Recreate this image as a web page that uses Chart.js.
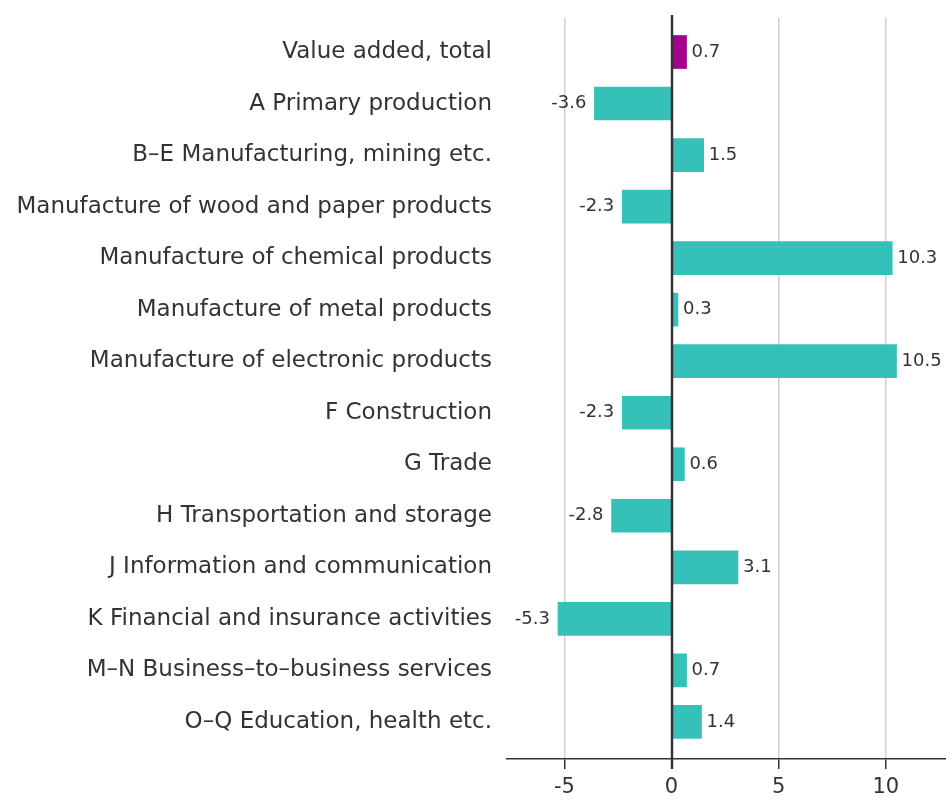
<!DOCTYPE html>
<html>
<head>
<meta charset="utf-8">
<script src="https://cdn.jsdelivr.net/npm/chart.js@4"></script>
<style>
  html, body { margin: 0; padding: 0; background: #fff; }
  #wrap { width: 946px; height: 803px; }
</style>
</head>
<body>
<div id="wrap"><canvas id="chart" width="946" height="803"></canvas></div>
<script>
const categories = [
    'Value added, total',
    'A Primary production',
    'B\u2013E Manufacturing, mining etc.',
    'Manufacture of wood and paper products',
    'Manufacture of chemical products',
    'Manufacture of metal products',
    'Manufacture of electronic products',
    'F Construction',
    'G Trade',
    'H Transportation and storage',
    'J Information and communication',
    'K Financial and insurance activities',
    'M\u2013N Business\u2013to\u2013business services',
    'O\u2013Q Education, health etc.'
];
const values = [0.7, -3.6, 1.5, -2.3, 10.3, 0.3, 10.5, -2.3, 0.6, -2.8, 3.1, -5.3, 0.7, 1.4];
const xTicks = [-5, 0, 5, 10];

const TEAL = '#35c1b8';
const MAGENTA = '#a3008c';
const FONT = "'DejaVu Sans', sans-serif";

// zero line drawn on top of bars, reaching a bit above and below plot
const zeroLine = {
    id: 'zeroLine',
    afterDatasetsDraw(chart) {
        const ctx = chart.ctx;
        const x = Math.round(chart.scales.x.getPixelForValue(0));
        ctx.save();
        ctx.strokeStyle = '#333';
        ctx.lineWidth = 2.5;
        ctx.beginPath();
        ctx.moveTo(x, chart.chartArea.top - 3);
        ctx.lineTo(x, chart.chartArea.bottom + 10);
        ctx.stroke();
        ctx.restore();
    }
};

// value labels next to bar ends
const valueLabels = {
    id: 'valueLabels',
    afterDatasetsDraw(chart) {
        const ctx = chart.ctx;
        const meta = chart.getDatasetMeta(0);
        ctx.save();
        ctx.font = '18px ' + FONT;
        ctx.fillStyle = '#333';
        ctx.textBaseline = 'middle';
        meta.data.forEach((bar, i) => {
            const v = values[i];
            if (v >= 0) {
                ctx.textAlign = 'left';
                ctx.fillText(String(v), bar.x + 5, bar.y);
            } else {
                ctx.textAlign = 'right';
                ctx.fillText(String(v), bar.x - 8, bar.y);
            }
        });
        ctx.restore();
    }
};

const chart = new Chart(document.getElementById('chart'), {
    type: 'bar',
    data: {
        datasets: [{
            data: values.map((v, i) => ({ x: v, y: i })),
            backgroundColor: values.map((v, i) => i === 0 ? MAGENTA : TEAL),
            borderWidth: 0,
            barThickness: 33
        }]
    },
    options: {
        indexAxis: 'y',
        responsive: false,
        animation: false,
        layout: { padding: { top: 18, right: 0, left: 0, bottom: 0 } },
        plugins: {
            legend: { display: false },
            tooltip: { enabled: false }
        },
        scales: {
            x: {
                type: 'linear',
                min: -7.68,
                max: 12.81,
                afterBuildTicks(scale) {
                    scale.ticks = xTicks.map(v => ({ value: v }));
                },
                afterFit(scale) {
                    scale.height = 44;
                    scale.paddingLeft = 0;
                    scale.paddingRight = 0;
                },
                grid: {
                    color: '#d0d0d0',
                    lineWidth: 1.5,
                    tickColor: '#333',
                    tickLength: 10,
                    drawTicks: true
                },
                border: { display: true, color: '#333', width: 1.5 },
                ticks: {
                    color: '#333',
                    font: { family: FONT, size: 21 },
                    padding: 6
                }
            },
            y: {
                type: 'linear',
                reverse: true,
                offset: false,
                min: -0.66,
                max: 13.72,
                afterBuildTicks(scale) {
                    scale.ticks = categories.map((c, i) => ({ value: i }));
                },
                afterFit(scale) {
                    scale.width = 507;
                    scale.paddingTop = 0;
                    scale.paddingBottom = 0;
                },
                grid: { display: false, drawTicks: false, offset: false },
                border: { display: false },
                ticks: {
                    color: '#333',
                    padding: 15,
                    font: { family: FONT, size: 23 },
                    callback: (v) => categories[v]
                }
            }
        }
    },
    plugins: [zeroLine, valueLabels]
});
</script>
</body>
</html>
